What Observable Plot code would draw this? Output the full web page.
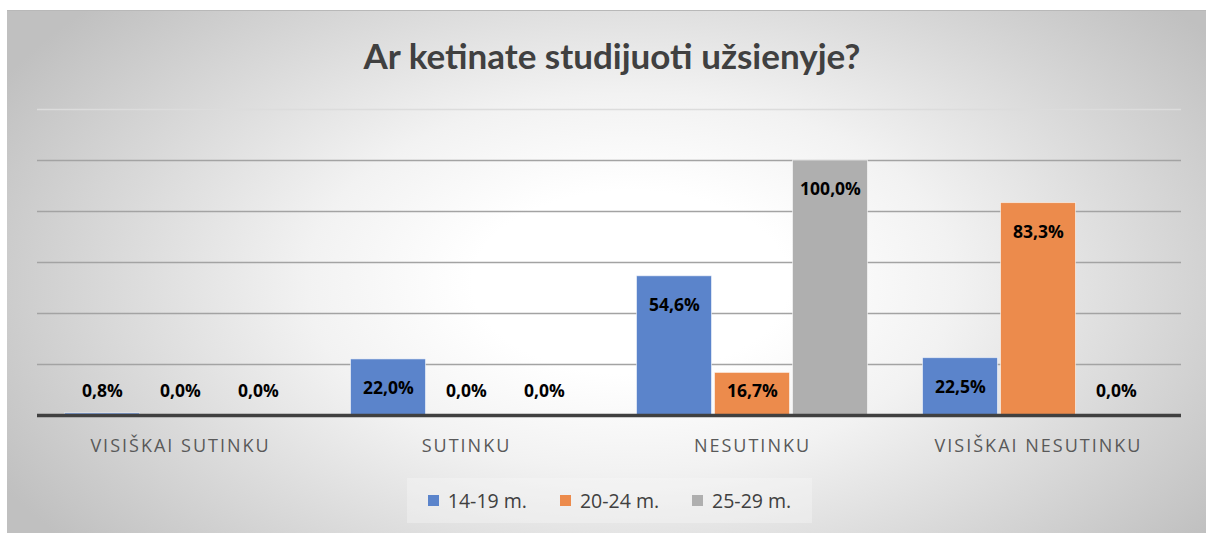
<!DOCTYPE html>
<html>
<head>
<meta charset="utf-8">
<script src="https://cdn.jsdelivr.net/npm/d3@7"></script>
<script src="https://cdn.jsdelivr.net/npm/@observablehq/plot@0.6"></script>
<style>
  html, body { margin: 0; padding: 0; background: #fff; width: 1206px; height: 533px; overflow: hidden; }
  #wrap { position: relative; width: 1206px; height: 533px; }
  #frame { position: absolute; left: 7px; top: 10px; width: 1199px; height: 523px;
    background: radial-gradient(ellipse 60% 80% at 52% 52%, #ffffff 22%, #f2f2f2 45%, #c0c0c0 100%);
    border-top: 1px solid #b8b8b8; box-sizing: border-box; }
  #title { position: absolute; left: 0; width: 1224px; top: 34px; text-align: center;
    font-family: Lato, sans-serif; font-weight: 700; font-size: 35px; color: #404040; }
  #chart { position: absolute; left: 0; top: 0; }
  #chart svg text { font-family: "Open Sans", sans-serif; }
  #chart svg [aria-label="fx-axis tick label"] text { letter-spacing: 2px; }
  #legend { position: absolute; left: 407px; top: 478px; width: 405px; height: 45px;
    background: rgba(248,248,248,0.35); display: flex; align-items: center; justify-content: center; gap: 33px;
    font-family: "Open Sans", sans-serif; font-size: 19.5px; color: #404040; }
  .item { display: flex; align-items: center; gap: 9px; }
  .sw { width: 11px; height: 11px; display: inline-block; }
</style>
</head>
<body>
<div id="wrap">
  <div id="frame"></div>
  <div id="title">Ar ketinate studijuoti užsienyje?</div>
  <div id="chart"></div>
  <div id="legend"></div>
</div>
<script>
const categories = ["VISIŠKAI SUTINKU", "SUTINKU", "NESUTINKU", "VISIŠKAI NESUTINKU"];
const seriesNames = ["14-19 m.", "20-24 m.", "25-29 m."];
const values_14_19 = [0.8, 22.0, 54.6, 22.5];
const values_20_24 = [0.0, 0.0, 16.7, 83.3];
const values_25_29 = [0.0, 0.0, 100.0, 0.0];
const colors = ["#5b84cb", "#ec8b4c", "#afafaf"];
const gridTicks = [20, 40, 60, 80, 100];
const topTick = [120];

const seriesValues = [values_14_19, values_20_24, values_25_29];
const data = [];
categories.forEach((c, i) => seriesNames.forEach((s, j) => data.push({category: c, series: s, value: seriesValues[j][i]})));

const fmt = v => d3.format(".1f")(v).replace(".", ",") + "%";

const plot = Plot.plot({
  width: 1206,
  height: 470,
  marginLeft: 37,
  marginRight: 25,
  marginTop: 109,
  marginBottom: 55,
  style: { background: "transparent", fontSize: "18px", color: "#595959" },
  fx: { domain: categories, padding: 0, axis: "bottom", tickSize: 0, tickPadding: 24, label: null },
  x: { domain: seriesNames, paddingInner: 0.02, paddingOuter: 0.33, axis: null },
  y: { domain: [0, 120], axis: null },
  color: { domain: seriesNames, range: colors },
  facet: { data, x: "category" },
  marks: [
    Plot.ruleY(topTick, { stroke: "#dcdcdc", strokeWidth: 1.5 }),
    Plot.ruleY(gridTicks, { stroke: "#a3a3a3", strokeWidth: 1.5 }),
    Plot.barY(data, { x: "series", y: "value", fill: "series", stroke: "#ffffff", strokeOpacity: 0.55, strokeWidth: 1, insetLeft: 0.5, insetRight: 0.5 }),
    Plot.ruleY([0], { stroke: "#404040", strokeWidth: 3.5 }),
    Plot.text(data, { x: "series", y: d => Math.max(d.value, 21), dy: 29, text: d => fmt(d.value),
      fontWeight: 700, fontSize: 17.5, fill: "#000" })
  ]
});
document.getElementById("chart").appendChild(plot);

const legend = document.getElementById("legend");
seriesNames.forEach((s, i) => {
  const it = document.createElement("span");
  it.className = "item";
  it.innerHTML = `<span class="sw" style="background:${colors[i]}"></span><span>${s}</span>`;
  legend.appendChild(it);
});
</script>
</body>
</html>
